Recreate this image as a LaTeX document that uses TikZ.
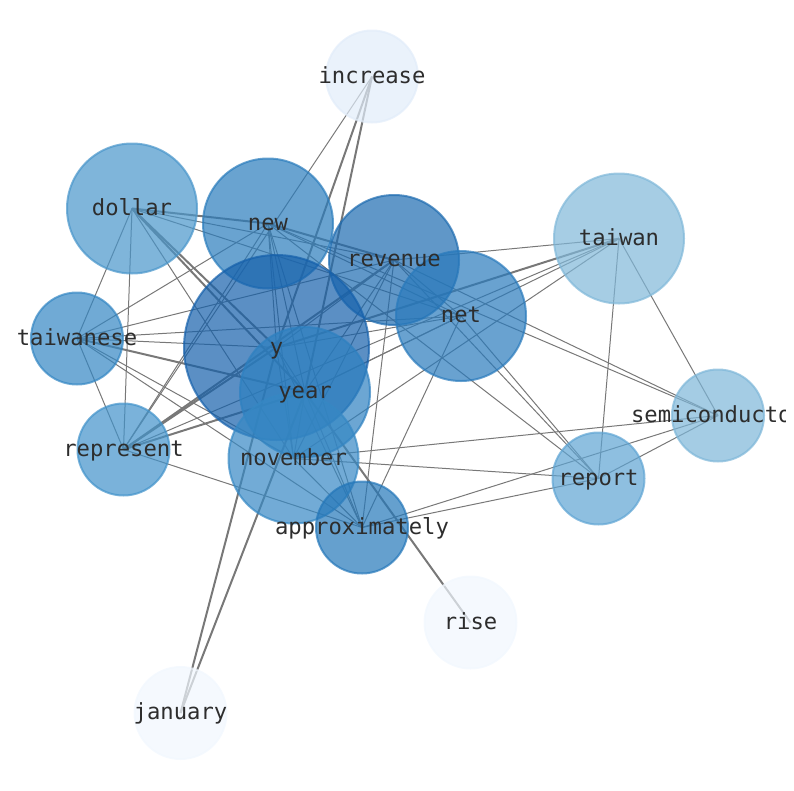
\documentclass[tikz,border=0pt]{standalone}
\usepackage{fontspec}
\newfontfamily\monof{DejaVu Sans Mono}
\definecolor{edgegray}{RGB}{120,120,120}
\definecolor{labelc}{RGB}{45,45,45}
\definecolor{cinc}{RGB}{225,236,249}
\definecolor{clight}{RGB}{241,247,254}
\definecolor{ctaiwan}{RGB}{128,184,217}
\definecolor{csemi}{RGB}{125,182,216}
\definecolor{creport}{RGB}{94,164,211}
\definecolor{crepresent}{RGB}{65,146,202}
\definecolor{cdollar}{RGB}{72,149,202}
\definecolor{ctaiwanese}{RGB}{51,134,195}
\definecolor{cnov}{RGB}{54,136,196}
\definecolor{cnew}{RGB}{42,124,188}
\definecolor{cnet}{RGB}{41,122,188}
\definecolor{capprox}{RGB}{36,119,185}
\definecolor{crevenue}{RGB}{29,107,176}
\definecolor{cy}{RGB}{21,96,171}
\definecolor{cyear}{RGB}{45,128,192}
\begin{document}
\begin{tikzpicture}[x=1pt,y=-1pt,
  thinedge/.style={draw=edgegray,line width=1pt},
  thickedge/.style={draw=edgegray,line width=2pt},
  wnode/.style={circle,inner sep=0pt,outer sep=0pt,fill=#1,draw=#1,fill opacity=0.7,draw opacity=0.7,line width=2pt},
  bigw/.style={minimum size=185pt},
  midw/.style={minimum size=130pt},
  smallw/.style={minimum size=92pt},
  lbl/.style={font=\monof\fontsize{22.2}{25}\selectfont,text=labelc,inner sep=0pt,text height=0.76em,text depth=0.24em,anchor=center,yshift=-4pt}]
\useasboundingbox (0,0) rectangle (794,790);
\clip (0,0) rectangle (794,790);
% positions
\coordinate (increase) at (372,76.5);
\coordinate (dollar) at (132,208.5);
\coordinate (new) at (268,223.5);
\coordinate (revenue) at (394,260);
\coordinate (taiwan) at (619,238.5);
\coordinate (taiwanese) at (77,338.5);
\coordinate (y) at (276.5,347.5);
\coordinate (net) at (461,316);
\coordinate (year) at (305,392);
\coordinate (semi) at (718,415.5);
\coordinate (represent) at (123.5,449.5);
\coordinate (november) at (293.5,458.5);
\coordinate (report) at (598.5,478.5);
\coordinate (approx) at (362,527.5);
\coordinate (rise) at (470.5,622.5);
\coordinate (january) at (180.5,713);
% edges
\draw[thinedge] (increase) -- (represent);
\draw[thickedge] (increase) -- (y);
\draw[thickedge] (increase) -- (year);
\draw[thickedge] (january) -- (y);
\draw[thickedge] (january) -- (year);
\draw[thickedge] (rise) -- (year);
\draw[thickedge] (dollar) -- (new);
\draw[thinedge] (dollar) -- (revenue);
\draw[thinedge] (dollar) -- (net);
\draw[thickedge] (dollar) -- (y);
\draw[thickedge] (dollar) -- (year);
\draw[thinedge] (dollar) -- (taiwanese);
\draw[thinedge] (dollar) -- (represent);
\draw[thinedge] (dollar) -- (november);
\draw[thinedge] (taiwanese) -- (new);
\draw[thinedge] (taiwanese) -- (revenue);
\draw[thinedge] (taiwanese) -- (net);
\draw[thinedge] (taiwanese) -- (y);
\draw[thickedge] (taiwanese) -- (year);
\draw[thinedge] (taiwanese) -- (represent);
\draw[thinedge] (taiwanese) -- (november);
\draw[thinedge] (taiwanese) -- (approx);
\draw[thinedge] (represent) -- (new);
\draw[thickedge] (represent) -- (y);
\draw[thickedge] (represent) -- (revenue);
\draw[thickedge] (represent) -- (year);
\draw[thinedge] (represent) -- (taiwan);
\draw[thinedge] (represent) -- (approx);
\draw[thickedge] (new) -- (revenue);
\draw[thinedge] (new) -- (net);
\draw[thinedge] (new) -- (y);
\draw[thinedge] (new) -- (year);
\draw[thinedge] (new) -- (november);
\draw[thinedge] (new) -- (approx);
\draw[thinedge] (new) -- (report);
\draw[thinedge] (new) -- (semi);
\draw[thinedge] (revenue) -- (net);
\draw[thinedge] (revenue) -- (y);
\draw[thinedge] (revenue) -- (year);
\draw[thinedge] (revenue) -- (taiwan);
\draw[thinedge] (revenue) -- (report);
\draw[thinedge] (revenue) -- (semi);
\draw[thinedge] (revenue) -- (approx);
\draw[thinedge] (revenue) -- (november);
\draw[thinedge] (net) -- (y);
\draw[thinedge] (net) -- (year);
\draw[thinedge] (net) -- (report);
\draw[thinedge] (net) -- (approx);
\draw[thickedge] (taiwan) -- (y);
\draw[thinedge] (taiwan) -- (year);
\draw[thinedge] (taiwan) -- (november);
\draw[thinedge] (taiwan) -- (semi);
\draw[thinedge] (taiwan) -- (report);
\draw[thinedge] (semi) -- (report);
\draw[thinedge] (semi) -- (november);
\draw[thinedge] (semi) -- (approx);
\draw[thinedge] (report) -- (november);
\draw[thinedge] (report) -- (approx);
\draw[thinedge] (y) -- (year);
\draw[thinedge] (y) -- (november);
\draw[thinedge] (y) -- (approx);
\draw[thinedge] (year) -- (november);
\draw[thinedge] (year) -- (approx);
\draw[thinedge] (november) -- (approx);
% node circles
\node[wnode=cinc,smallw] (n-increase) at (increase) {};
\node[wnode=cdollar,midw] (n-dollar) at (dollar) {};
\node[wnode=cnew,midw] (n-new) at (new) {};
\node[wnode=crevenue,midw] (n-revenue) at (revenue) {};
\node[wnode=ctaiwan,midw] (n-taiwan) at (taiwan) {};
\node[wnode=ctaiwanese,smallw] (n-taiwanese) at (taiwanese) {};
\node[wnode=cy,bigw] (n-y) at (y) {};
\node[wnode=cnet,midw] (n-net) at (net) {};
\node[wnode=cyear,midw] (n-year) at (year) {};
\node[wnode=csemi,smallw] (n-semi) at (semi) {};
\node[wnode=crepresent,smallw] (n-represent) at (represent) {};
\node[wnode=cnov,midw] (n-november) at (november) {};
\node[wnode=creport,smallw] (n-report) at (report) {};
\node[wnode=capprox,smallw] (n-approx) at (approx) {};
\node[wnode=clight,smallw] (n-rise) at (rise) {};
\node[wnode=clight,smallw] (n-january) at (january) {};
% labels
\node[lbl] (l-increase) at (increase) {increase};
\node[lbl] (l-dollar) at (dollar) {dollar};
\node[lbl] (l-new) at (new) {new};
\node[lbl] (l-revenue) at (revenue) {revenue};
\node[lbl] (l-taiwan) at (taiwan) {taiwan};
\node[lbl] (l-taiwanese) at (taiwanese) {taiwanese};
\node[lbl] (l-y) at (y) {y};
\node[lbl] (l-net) at (net) {net};
\node[lbl] (l-year) at (year) {year};
\begin{scope}
\clip (0,0) rectangle (785,790);
\node[lbl] (l-semi) at (semi) {semiconductor};
\end{scope}
\node[lbl] (l-represent) at (represent) {represent};
\node[lbl] (l-november) at (november) {november};
\node[lbl] (l-report) at (report) {report};
\node[lbl] (l-approx) at (approx) {approximately};
\node[lbl] (l-rise) at (rise) {rise};
\node[lbl] (l-january) at (january) {january};
\end{tikzpicture}
\end{document}
